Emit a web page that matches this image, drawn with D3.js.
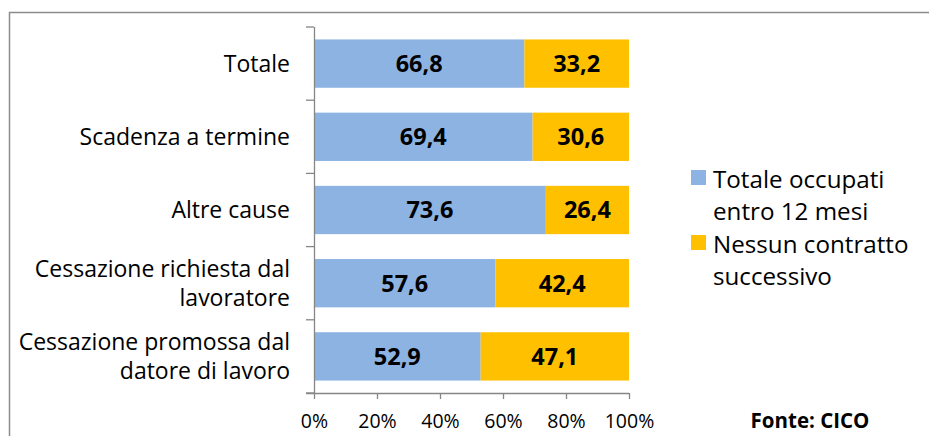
<!DOCTYPE html>
<html><head><meta charset="utf-8">
<script src="https://cdn.jsdelivr.net/npm/d3@7"></script>
<style>body{margin:0;background:#fff}svg{display:block}text{font-family:"Open Sans",sans-serif}</style>
</head><body>
<svg id="c" width="929" height="436"></svg>
<script>
const categories = ["Totale","Scadenza a termine","Altre cause","Cessazione richiesta dal\nlavoratore","Cessazione promossa dal\ndatore di lavoro"];
const occupati = [66.8, 69.4, 73.6, 57.6, 52.9];
const nessuno = [33.2, 30.6, 26.4, 42.4, 47.1];
const seriesNames = ["Totale occupati\nentro 12 mesi","Nessun contratto\nsuccessivo"];
const colors = ["#8DB3E2","#FFC000"];
const xTicks = [0,20,40,60,80,100];

const svg = d3.select("#c");
svg.append("path").attr("d","M9.5,436V12.5H929").attr("fill","none").attr("stroke","#8c8c8c").attr("stroke-width",1.5);

const x = d3.scaleLinear().domain([0,100]).range([314,629]);
const y = d3.scaleBand().domain(categories).range([27,393]).paddingInner(0.34).paddingOuter(0.17);

const rows = categories.map((c,i)=>({c, a:occupati[i], b:nessuno[i]}));
const g = svg.append("g");
rows.forEach(r=>{
  const segs=[{x0:0,x1:r.a,v:r.a,col:colors[0]},{x0:r.a,x1:r.a+r.b,v:r.b,col:colors[1]}];
  segs.forEach(s=>{
    g.append("rect").attr("x",x(s.x0)).attr("y",y(r.c)).attr("width",x(s.x1)-x(s.x0)).attr("height",y.bandwidth()).attr("fill",s.col);
    g.append("text").attr("x",(x(s.x0)+x(s.x1))/2).attr("y",y(r.c)+y.bandwidth()/2).attr("dy","0.36em")
      .attr("text-anchor","middle").attr("font-weight","bold").attr("font-size",23.5).attr("fill","#000")
      .text(s.v.toFixed(1).replace(".",","));
  });
});

const axisCol="#868686";
// x axis
const xa = svg.append("g").attr("transform","translate(0,393)")
  .call(d3.axisBottom(x).tickValues(xTicks).tickSize(6).tickFormat(d=>d+"%"));
xa.select(".domain").attr("stroke",axisCol).attr("stroke-width",1.3).attr("d","M306,0.5H629");
xa.selectAll(".tick line").attr("stroke",axisCol).attr("stroke-width",1.3);
xa.selectAll(".tick text").attr("font-size",19.5).attr("fill","#000").attr("font-family","'Open Sans',sans-serif").attr("y",21);

// y axis
const step = (393-27)/categories.length;
const ya = svg.append("g");
ya.append("line").attr("x1",314.5).attr("x2",314.5).attr("y1",27).attr("y2",393).attr("stroke",axisCol).attr("stroke-width",1.3);
d3.range(categories.length+1).forEach(i=>{
  ya.append("line").attr("x1",306).attr("x2",314).attr("y1",27+i*step).attr("y2",27+i*step).attr("stroke",axisCol).attr("stroke-width",1.3);
});
categories.forEach(c=>{
  const lines=c.split("\n");
  const cy=y(c)+y.bandwidth()/2;
  const t=ya.append("text").attr("text-anchor","end").attr("font-size",23).attr("fill","#000");
  lines.forEach((l,k)=>{
    t.append("tspan").attr("x",290).attr("y",cy+(k-(lines.length-1)/2)*29).attr("dy","0.36em").text(l);
  });
});

// legend
const lg = svg.append("g");
seriesNames.forEach((n,i)=>{
  const y0=170+i*65;
  lg.append("rect").attr("x",691).attr("y",y0).attr("width",15).attr("height",15).attr("fill",colors[i]);
  const t=lg.append("text").attr("font-size",24.2).attr("fill","#000");
  n.split("\n").forEach((l,k)=>t.append("tspan").attr("x",713).attr("y",y0+9+k*32).attr("dy","0.36em").text(l));
});

svg.append("text").attr("x",810).attr("y",421).attr("dy","0.36em").attr("text-anchor","middle")
  .attr("font-weight","bold").attr("font-size",20.5).attr("fill","#000").text("Fonte: CICO");
</script>
</body></html>
